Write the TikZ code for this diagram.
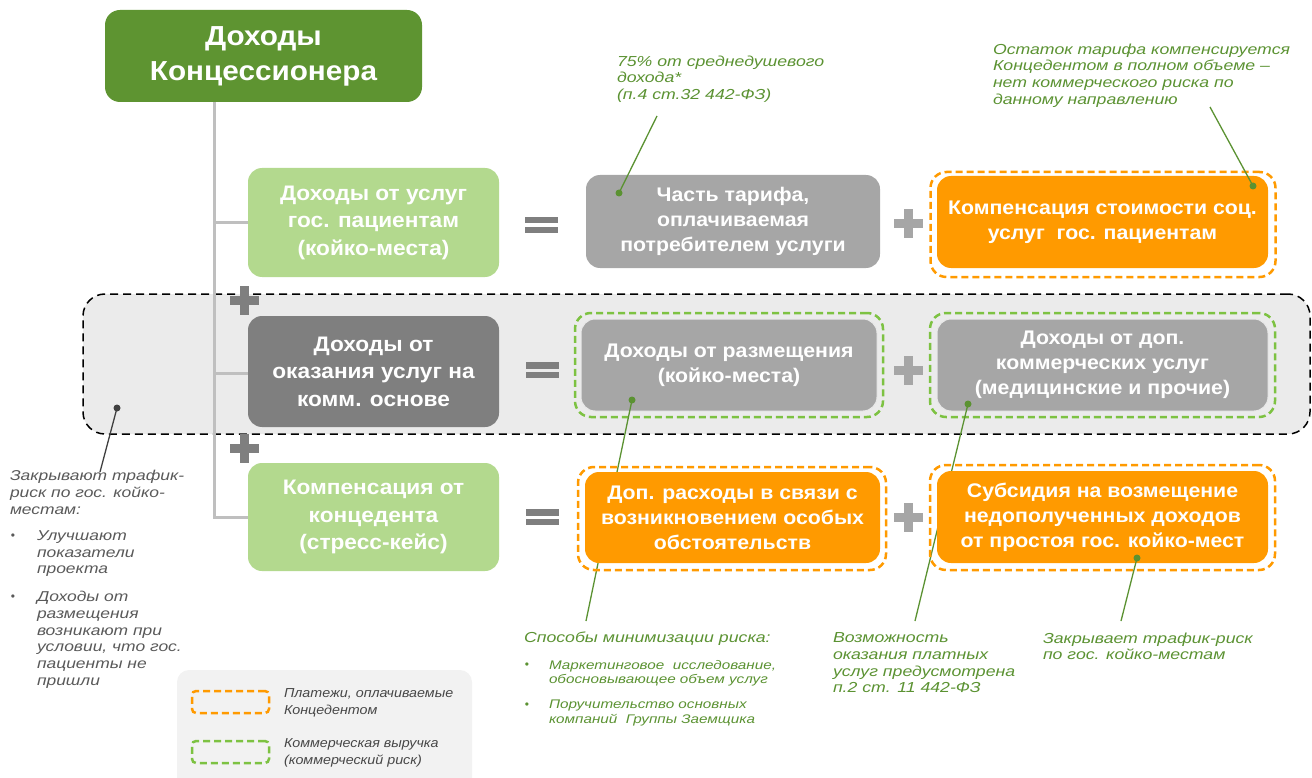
\documentclass[tikz,border=0pt]{standalone}
\usepackage{fontspec}
\setmainfont{Liberation Sans}
\newfontfamily\annfont{Liberation Sans}[FakeStretch=1.22]
\newfontfamily\legfont{Liberation Sans}[FakeStretch=1.1]
\newfontfamily\boxfont{Liberation Sans}[FakeStretch=1.08]
\definecolor{titlegreen}{HTML}{5E9431}
\definecolor{lightgreen}{HTML}{B3D98E}
\definecolor{darkgraybox}{HTML}{7F7F7F}
\definecolor{graybox}{HTML}{A6A6A6}
\definecolor{orangebox}{HTML}{FF9A00}
\definecolor{dashgreen}{HTML}{7DC242}
\definecolor{anngreen}{HTML}{5B9232}
\definecolor{regionfill}{HTML}{EBEBEB}
\definecolor{legendfill}{HTML}{F2F2F2}
\definecolor{linegray}{HTML}{BFBFBF}
\definecolor{anngray}{HTML}{595959}
\definecolor{darkplus}{HTML}{7F7F7F}
\definecolor{lightplus}{HTML}{A6A6A6}
\begin{document}
\begin{tikzpicture}[x=1pt,y=-1pt,
  every node/.style={inner sep=0pt, outer sep=0pt},
  boxbase/.style={rounded corners=14pt, align=center, text=white, font=\boxfont\bfseries\fontsize{19.7}{25}\selectfont},
  titlebox/.style={boxbase, fill=titlegreen, minimum width=317pt, minimum height=92pt, rounded corners=15pt, font=\boxfont\bfseries\fontsize{27.5}{35}\selectfont},
  leftbox/.style={boxbase, minimum width=251pt, minimum height=109pt, font=\boxfont\bfseries\fontsize{21}{27.5}\selectfont},
  innerbox/.style={boxbase, minimum width=331pt, minimum height=92pt},
  orangedash/.style={draw=orangebox, line width=2.5pt, dash pattern=on 7pt off 4pt, rounded corners=16pt, minimum width=345pt, minimum height=105pt},
  greendash/.style={draw=dashgreen, line width=2.5pt, dash pattern=on 7pt off 4pt, rounded corners=16pt, minimum width=345pt, minimum height=104pt},
  conn/.style={draw=linegray, line width=3pt},
  annline/.style={draw=anngreen, line width=1.3pt},
  anndot/.style={circle, fill=anngreen, minimum size=7pt},
  anntext/.style={anchor=north west, align=left, text=anngreen, font=\annfont\itshape\fontsize{14.5}{16.8}\selectfont},
  smalltext/.style={anchor=north west, align=left, text=anngreen, font=\annfont\itshape\fontsize{12.5}{14.5}\selectfont},
  graytext/.style={anchor=north west, align=left, text=anngray, font=\annfont\itshape\fontsize{14.3}{16.7}\selectfont},
  bulletnode/.style={font=\fontsize{12}{12}\selectfont},
  legtext/.style={anchor=north west, align=left, text=anngray!80!black, font=\legfont\itshape\fontsize{13}{17}\selectfont},
  plussign/.pic={\fill (-14.5,-4.5) rectangle (14.5,4.5); \fill (-4.5,-14.5) rectangle (4.5,14.5);},
  eqsign/.pic={\fill (-16.5,-8) rectangle (16.5,-1.5); \fill (-16.5,2) rectangle (16.5,8);}
]
\useasboundingbox (0,0) rectangle (1312,778);

% shaded commercial region
\node[draw=black, fill=regionfill, line width=1.5pt, dash pattern=on 8pt off 5pt, rounded corners=22pt,
      minimum width=1227pt, minimum height=140pt] (region) at (696.5,364) {};

% legend panel
\node[fill=legendfill, rounded corners=12pt, minimum width=295pt, minimum height=130pt] (legend) at (324.5,735) {};

% title and left column
\node[titlebox] (title) at (263.5,56) {Доходы\\Концессионера};
\coordinate (trunktop) at (214,102);
\coordinate (trunkb1) at (214,223);
\coordinate (trunkb2) at (214,373);

% trunk connectors
\draw[conn] (trunktop) |- (373.5,517) coordinate (trunkend);
\draw[conn] (trunkb1) -- (300,223) coordinate (b1end);
\draw[conn] (trunkb2) -- (300,373) coordinate (b2end);

\node[leftbox, fill=lightgreen] (box1) at (373.5,222.5) {Доходы от услуг\\гос. пациентам\\(койко-места)};
\node[leftbox, fill=darkgraybox, minimum height=111pt] (box2) at (373.5,371.5) {Доходы от\\оказания услуг на\\комм. основе};
\node[leftbox, fill=lightgreen, minimum height=108pt] (box3) at (373.5,517) {Компенсация от\\концедента\\(стресс-кейс)};

% plus signs between rows
\pic[color=darkplus] at (244,300) {plussign};
\pic[color=darkplus] at (244,448) {plussign};

% equals signs
\pic[color=darkplus] at (541,225) {eqsign};
\pic[color=darkplus] at (542,370) {eqsign};
\pic[color=darkplus] at (542,517) {eqsign};

% plus signs on the right
\pic[color=lightplus] at (908,224) {plussign};
\pic[color=lightplus] at (908,370) {plussign};
\pic[color=lightplus] at (908,517) {plussign};

% row 1
\node[boxbase, fill=graybox, minimum width=294pt, minimum height=93pt] (r1a) at (733,221.5) {Часть тарифа,\\оплачиваемая\\потребителем услуги};
\node[orangedash] (r1bo) at (1103,224.5) {};
\node[innerbox, fill=orangebox] (r1b) at (1102.5,222) {Компенсация стоимости соц.\\услуг\ \ гос. пациентам};

% row 2
\node[greendash, minimum width=308pt] (r2ao) at (729,365) {};
\node[boxbase, fill=graybox, draw=white!75!graybox, line width=1pt, minimum width=296pt, minimum height=92pt] (r2a) at (729,365) {Доходы от размещения\\(койко-места)};
\node[greendash] (r2bo) at (1102.5,365) {};
\node[innerbox, fill=graybox, draw=white!75!graybox, line width=1pt] (r2b) at (1102.5,365) {Доходы от доп.\\коммерческих услуг\\(медицинские и прочие)};

% annotation texts
\node[anntext] (a75) at (617,55.5) {75\% от среднедушевого\\дохода*\\(п.4 ст.32 442-ФЗ)};
\node[anntext] (arest) at (993,43.5) {Остаток тарифа компенсируется\\Концедентом в полном объеме –\\нет коммерческого риска по\\данному направлению};
\node[graytext] (aleft) at (10,470.5) {Закрывают трафик-\\риск по гос. койко-\\местам:};
\node[graytext] (bl1) at (37,530.5) {Улучшают\\показатели\\проекта};
\node[graytext] (bl2) at (37,591.5) {Доходы от\\размещения\\возникают при\\условии, что гос.\\пациенты не\\пришли};
\node[bulletnode, text=anngray] (bd1) at (13,537) {•};
\node[bulletnode, text=anngray] (bd2) at (13,598) {•};
\node[anntext] (amin) at (524,631.5) {Способы минимизации риска:};
\node[smalltext] (m1) at (549,660) {Маркетинговое\ \ исследование,\\обосновывающее объем услуг};
\node[smalltext] (m2) at (549,700) {Поручительство основных\\компаний\ \ Группы Заемщика};
\node[bulletnode, text=anngreen] (md1) at (527,666) {•};
\node[bulletnode, text=anngreen] (md2) at (527,706) {•};
\node[anntext] (apos) at (833,632.5) {Возможность\\оказания платных\\услуг предусмотрена\\п.2 ст. 11 442-ФЗ};
\node[anntext] (atraf) at (1043,632.5) {Закрывает трафик-риск\\по гос. койко-местам};

% annotation connector end points
\coordinate (c75) at (657,116);
\coordinate (crest) at (1210,107);
\coordinate (cleft) at (100,472);
\coordinate (cmin) at (586,621);
\coordinate (cpos) at (915,621);
\coordinate (ctraf) at (1121,621);
\node[anndot] (d75) at (619,193) {};
\node[anndot] (drest) at (1253,186) {};
\node[anndot, fill=black!75] (dleft) at (117,408) {};
\node[anndot] (dmin) at (632,400) {};
\node[anndot] (dpos) at (968,404) {};

\draw[annline] (c75) -- (d75.center);
\draw[annline] (crest) -- (drest.center);
\draw[annline, draw=black!75] (cleft) -- (dleft.center);
\draw[annline] (cmin) -- (dmin.center);
\draw[annline] (cpos) -- (dpos.center);

% row 3 (covers the lines that pass behind)
\node[orangedash, minimum width=308pt, minimum height=103pt] (r3ao) at (732,518.5) {};
\node[boxbase, fill=orangebox, minimum width=295pt, minimum height=91pt] (r3a) at (732.5,517.5) {Доп. расходы в связи с\\возникновением особых\\обстоятельств};
\node[orangedash] (r3bo) at (1102.5,517.5) {};
\node[innerbox, fill=orangebox] (r3b) at (1102.5,517) {Субсидия на возмещение\\недополученных доходов\\от простоя гос. койко-мест};

\node[anndot] (dtraf) at (1137,558) {};
\draw[annline] (ctraf) -- (dtraf.center);

% legend content
\node[draw=orangebox, line width=2.5pt, dash pattern=on 7pt off 4pt, rounded corners=4pt, minimum width=77pt, minimum height=22pt] (legor) at (230.5,702) {};
\node[draw=dashgreen, line width=2.5pt, dash pattern=on 7pt off 4pt, rounded corners=4pt, minimum width=77pt, minimum height=22pt] (leggr) at (230.5,752) {};
\node[legtext] (legort) at (284,689) {Платежи, оплачиваемые\\Концедентом};
\node[legtext] (leggrt) at (284,739) {Коммерческая выручка\\(коммерческий риск)};
\end{tikzpicture}
\end{document}
